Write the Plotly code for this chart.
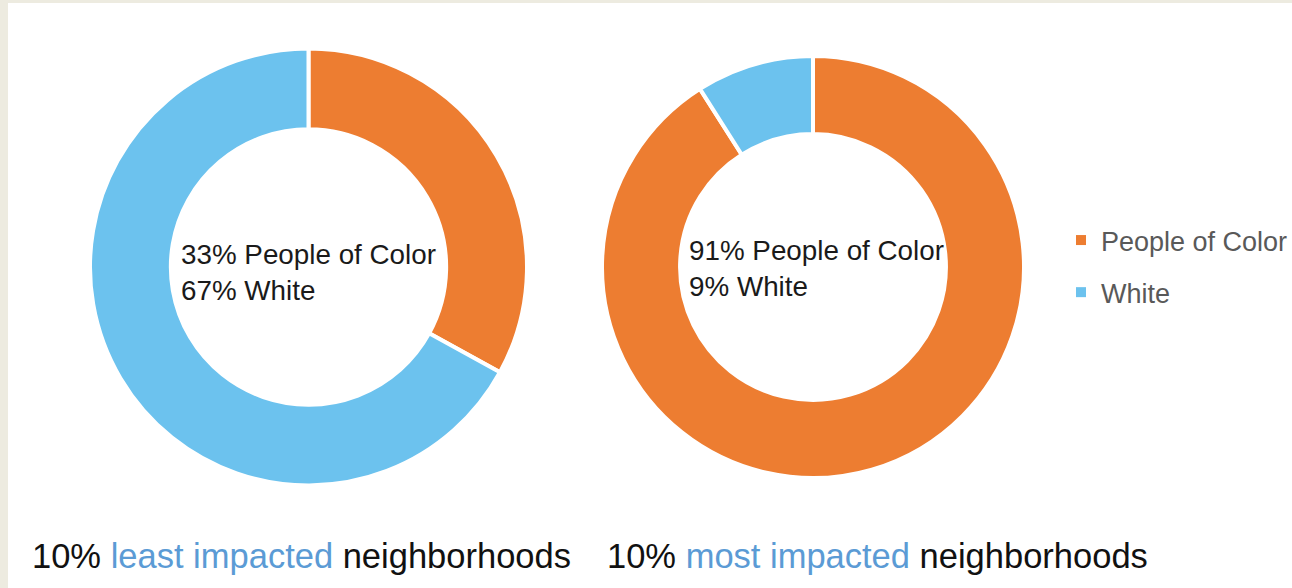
import plotly.graph_objects as go

# Share of residents by race in the least / most impacted neighborhoods
labels = ["People of Color", "White"]
least_impacted = [33, 67]
most_impacted = [91, 9]
slice_colors = ["#ED7D31", "#6CC2EE"]
panel_titles = [
    ("10%", "least impacted", "neighborhoods"),
    ("10%", "most impacted", "neighborhoods"),
]

W, H = 1292, 588
FONT = "Liberation Sans, Arial, sans-serif"


def px_x(v):
    return v / W


def px_y(v):
    return 1 - v / H


def centre_text(values):
    return "<br>".join(f"{v}% {lab}" for v, lab in zip(values, labels))


fig = go.Figure()

pie_style = dict(
    labels=labels,
    hole=0.63,
    sort=False,
    direction="clockwise",
    rotation=0,
    textinfo="none",
    hoverinfo="label+percent",
    marker=dict(colors=slice_colors, line=dict(color="white", width=4)),
    showlegend=False,
)

fig.add_trace(go.Pie(
    values=least_impacted,
    domain=dict(x=[px_x(90), px_x(527)], y=[px_y(486), px_y(48)]),
    **pie_style,
))
fig.add_trace(go.Pie(
    values=most_impacted,
    domain=dict(x=[px_x(602), px_x(1024)], y=[px_y(478), px_y(56)]),
    **pie_style,
))

# Legend entries, one group each so they can be spaced apart
for lab, col in zip(labels, slice_colors):
    fig.add_trace(go.Scatter(
        x=[None], y=[None], mode="markers", name=lab, legendgroup=lab,
        marker=dict(symbol="square", size=10, color=col),
        hoverinfo="skip",
    ))

annotations = [
    dict(text=centre_text(least_impacted), x=px_x(179), y=px_y(272),
         xanchor="left", yanchor="middle", align="left"),
    dict(text=centre_text(most_impacted), x=px_x(687), y=px_y(268),
         xanchor="left", yanchor="middle", align="left"),
]
for a in annotations:
    a.update(xref="paper", yref="paper", showarrow=False,
             font=dict(family=FONT, size=27.8, color="#1a1a1a"))

for (lead, hl, tail), x0 in zip(panel_titles, [30, 605]):
    annotations.append(dict(
        text=f"{lead} <span style='color:#5B9BD5'>{hl}</span> {tail}",
        x=px_x(x0), y=px_y(556), xref="paper", yref="paper",
        xanchor="left", yanchor="middle", showarrow=False,
        font=dict(family=FONT, size=34.5, color="#111111"),
    ))

fig.update_layout(
    width=W, height=H,
    margin=dict(l=0, r=0, t=0, b=0, autoexpand=False),
    paper_bgcolor="#EDEBE0",
    plot_bgcolor="rgba(0,0,0,0)",
    xaxis=dict(visible=False),
    yaxis=dict(visible=False),
    showlegend=True,
    legend=dict(
        xref="container", yref="container",
        x=px_x(1061), y=px_y(216), xanchor="left", yanchor="top",
        traceorder="grouped", tracegroupgap=14,
        font=dict(family=FONT, size=27, color="#595959"),
        bgcolor="rgba(0,0,0,0)", itemwidth=30,
    ),
    shapes=[dict(type="rect", xref="paper", yref="paper",
                 x0=px_x(8), x1=1, y0=0, y1=px_y(3),
                 fillcolor="white", line=dict(width=0), layer="below")],
    annotations=annotations,
)

fig.write_html("out.html", config={"displayModeBar": False})
